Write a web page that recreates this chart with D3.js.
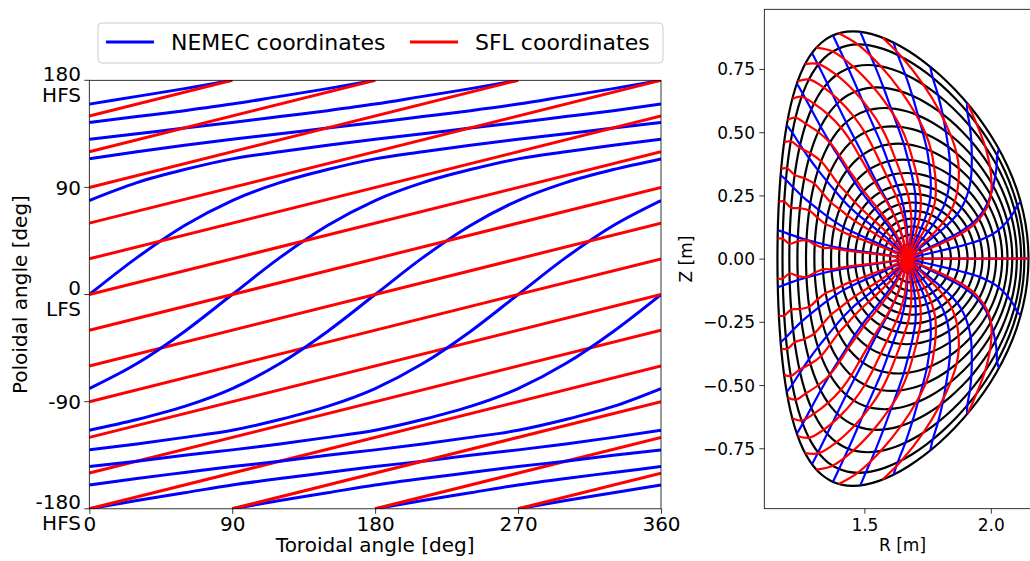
<!DOCTYPE html>
<html>
<head>
<meta charset="utf-8">
<script src="https://cdn.jsdelivr.net/npm/d3@7"></script>
<style>
  body { margin: 0; background: #fff; }
  svg text { font-family: "DejaVu Sans", sans-serif; fill: #000; }
</style>
</head>
<body>
<script>
// ---------------- data ----------------
const toroidalTicks = [0, 90, 180, 270, 360];
const poloidalTicks = [180, 90, 0, -90, -180];
const poloidalTickText = [["180", "HFS"], ["90"], ["0", "LFS"], ["-90"], ["-180", "HFS"]];

// field lines: start angle (SFL) at phi = 0, rotational transform
const iota = 1 / 3;
const fieldLineStarts = [-180, -150, -120, -90, -60, -30, 0, 30, 60, 90, 120, 150];

// boundary angle map: SFL poloidal angle -> NEMEC poloidal angle (deg)
const mapSFL = [-180, -170, -160, -150, -140, -130, -120, -110, -100, -90, -80, -70, -60, -50, -40, -30, -20, -10,
  0, 10, 20, 30, 40, 50, 60, 70, 80, 90, 100, 110, 120, 130, 140, 150, 160, 170, 180];
const mapNEMEC = [-180, -173, -166.5, -160, -154.5, -149.5, -144.5, -140, -135, -130.5, -125.5, -120, -114, -105, -94, -79, -58, -31,
  0, 31, 58, 79, 94, 105, 114, 120, 125.5, 130.5, 135, 140, 144.5, 149.5, 154.5, 160, 166.5, 173, 180];

// flux surfaces (inner -> outer): midplane R on HFS / LFS, elongation, triangularity
const surfRIn  = [1.631, 1.602, 1.576, 1.549, 1.522, 1.493, 1.463, 1.432, 1.400, 1.368, 1.335, 1.302, 1.269, 1.235, 1.203, 1.176, 1.156];
const surfROut = [1.730, 1.770, 1.807, 1.842, 1.875, 1.908, 1.938, 1.967, 1.994, 2.021, 2.045, 2.066, 2.085, 2.103, 2.120, 2.133, 2.149];
const surfKappa = [1.15, 1.12, 1.10, 1.08, 1.07, 1.07, 1.08, 1.10, 1.14, 1.20, 1.28, 1.37, 1.46, 1.56, 1.67, 1.77, 1.81];
const surfDelta = [0.00, 0.01, 0.02, 0.03, 0.04, 0.05, 0.06, 0.08, 0.10, 0.13, 0.16, 0.20, 0.24, 0.28, 0.33, 0.38, 0.41];
// share of the boundary angle shift (SFL vs NEMEC) on each surface
const lambdaWeight = [0.40, 0.40, 0.40, 0.41, 0.42, 0.43, 0.44, 0.45, 0.46, 0.47, 0.48, 0.50, 0.55, 0.63, 0.74, 0.87, 1.0];
// small ripple of the SFL angle on the high-field side (deg)
const lambdaRipple = [0, 0, 0, 0, 0, 0, 0, 0, 0, 0, 0.8, 0, -1, 0, 1.2, 0, 0];
const axisR = 1.677, axisZ = 0.0;

// poloidal angles of the radial grid lines (deg)
const gridAngles = [0, 14.4, 28.8, 43.2, 57.6, 72, 86.4, 100.8, 115.2, 129.6, 144, 158.4, 172.8,
  -172.8, -158.4, -144, -129.6, -115.2, -100.8, -86.4, -72, -57.6, -43.2, -28.8, -14.4];

const rTicks = [1.5, 2.0];
const zTicks = [0.75, 0.5, 0.25, 0, -0.25, -0.5, -0.75];

const BLUE = "#0000ff", RED = "#ff0000";

// ---------------- svg ----------------
var svg = d3.select("body").append("svg")
  .attr("width", 1030)
  .attr("height", 561);

// ================= left panel =================
var x = d3.scaleLinear().domain([0, 360]).range([89.3, 661]);
var y = d3.scaleLinear().domain([-180, 180]).range([508.8, 80.3]);

svg.append("clipPath").attr("id", "clipL")
  .append("rect").attr("x", 89.3).attr("y", 80.3).attr("width", 661 - 89.3).attr("height", 508.8 - 80.3);

var line = d3.line().x(d => x(d[0])).y(d => y(d[1]));
var curve = d3.line().x(d => x(d[0])).y(d => y(d[1])).curve(d3.curveMonotoneX);

// NEMEC field line: follow the SFL knots of the map, wrap at +-180
function nemecSegments(start) {
  const n = mapSFL.length - 1, i0 = mapSFL.indexOf(start);
  const segs = [[]];
  for (let j = i0; ; j++) {
    const turn = Math.floor(j / n), i = j - turn * n;
    const phi = (mapSFL[i] + 360 * turn - start) / iota;
    if (phi > 360) break;
    if (i === 0 && turn > 0) {
      segs[segs.length - 1].push([phi, 180]);
      segs.push([]);
    }
    segs[segs.length - 1].push([phi, mapNEMEC[i]]);
  }
  return segs.filter(s => s.length > 1);
}

// SFL field line: straight, wrap at +-180
function sflSegments(start) {
  const end = start + 360 * iota;
  if (end <= 180) return [[[0, start], [360, end]]];
  const phiWrap = (180 - start) / iota;
  return [[[0, start], [phiWrap, 180]], [[phiWrap, -180], [360, end - 360]]];
}

var gL = svg.append("g").attr("clip-path", "url(#clipL)");
fieldLineStarts.forEach(start => {
  nemecSegments(start).forEach(seg => {
    gL.append("path").attr("d", curve(seg))
      .attr("fill", "none").attr("stroke", BLUE).attr("stroke-width", 3);
  });
  sflSegments(start).forEach(seg => {
    gL.append("path").attr("d", line(seg))
      .attr("fill", "none").attr("stroke", RED).attr("stroke-width", 3);
  });
});

// frame
svg.append("rect")
  .attr("x", 89.3).attr("y", 80.3).attr("width", 661 - 89.3).attr("height", 508.8 - 80.3)
  .attr("fill", "none").attr("stroke", "#000").attr("stroke-width", 0.8);

// x axis
var xAxis = svg.append("g").attr("transform", "translate(0,508.8)")
  .call(d3.axisBottom(x).tickValues(toroidalTicks).tickSize(5).tickPadding(4).tickFormat(d3.format("d")));
xAxis.select(".domain").remove();
xAxis.selectAll("line").attr("stroke", "#000").attr("stroke-width", 0.8);
xAxis.selectAll("text").attr("font-size", 20).attr("dy", null).attr("y", 22);

// y axis with two-line labels
var yAxis = svg.append("g");
poloidalTicks.forEach((t, i) => {
  yAxis.append("line")
    .attr("x1", 84.3).attr("x2", 89.3).attr("y1", y(t)).attr("y2", y(t))
    .attr("stroke", "#000").attr("stroke-width", 0.8);
  const lines = poloidalTickText[i];
  const txt = yAxis.append("text")
    .attr("text-anchor", "end").attr("font-size", 20);
  lines.forEach((s, k) => {
    txt.append("tspan")
      .attr("x", 81)
      .attr("y", y(t) + (lines.length === 1 ? 7.4 : 0.6 + 21 * k))
      .text(s);
  });
});

svg.append("text")
  .attr("x", (89.3 + 661) / 2).attr("y", 552)
  .attr("text-anchor", "middle").attr("font-size", 20)
  .text("Toroidal angle [deg]");

svg.append("text")
  .attr("transform", "translate(27," + ((80.3 + 508.8) / 2) + ") rotate(-90)")
  .attr("text-anchor", "middle").attr("font-size", 20)
  .text("Poloidal angle [deg]");

// legend
var legend = svg.append("g");
legend.append("rect")
  .attr("x", 98).attr("y", 23).attr("width", 565).attr("height", 40).attr("rx", 4)
  .attr("fill", "#fff").attr("fill-opacity", 0.8).attr("stroke", "#cccccc").attr("stroke-width", 1);
[["NEMEC coordinates", BLUE, 106], ["SFL coordinates", RED, 410]].forEach(item => {
  legend.append("line")
    .attr("x1", item[2]).attr("x2", item[2] + 48).attr("y1", 42).attr("y2", 42)
    .attr("stroke", item[1]).attr("stroke-width", 3);
  legend.append("text")
    .attr("x", item[2] + 65).attr("y", 50)
    .attr("font-size", 22)
    .text(item[0]);
});

// ================= right panel =================
var xr = d3.scaleLinear().domain([1.104, 2.2]).range([764.3, 764.3 + 1.096 * 252.8]);
var yr = d3.scaleLinear().domain([-0.989, 0.986]).range([508.7, 9.3]);

// flux surface point at poloidal angle (deg)
function surfPoint(j, th) {
  const c = (surfRIn[j] + surfROut[j]) / 2, a = (surfROut[j] - surfRIn[j]) / 2;
  const t = th * Math.PI / 180;
  return [c + a * Math.cos(t + surfDelta[j] * Math.sin(t)), surfKappa[j] * a * Math.sin(t)];
}

var rLine = d3.line().x(d => xr(d[0])).y(d => yr(d[1]));
var gR = svg.append("g");

// black flux surfaces
var surfAngles = d3.range(0, 360, 6);
surfRIn.forEach((_, j) => {
  gR.append("path")
    .attr("d", rLine.curve(d3.curveCatmullRomClosed)(surfAngles.map(th => surfPoint(j, th))))
    .attr("fill", "none").attr("stroke", "#000").attr("stroke-width", 2.2);
});

// NEMEC angle on surface j for a given SFL angle
var sflToNemec = d3.scaleLinear().domain(mapSFL).range(mapNEMEC);
function nemecAngle(j, ts) {
  const hfs = Math.pow((1 - Math.cos(ts * Math.PI / 180)) / 2, 2);
  return ts + lambdaWeight[j] * (sflToNemec(ts) - ts) + Math.sign(ts) * hfs * lambdaRipple[j];
}

rLine.curve(d3.curveCatmullRom);
gridAngles.forEach(th => {
  const pts = [[axisR, axisZ]].concat(surfRIn.map((_, j) => surfPoint(j, th)));
  gR.append("path").attr("d", rLine(pts))
    .attr("fill", "none").attr("stroke", BLUE).attr("stroke-width", 2.2);
});
gridAngles.forEach(ts => {
  const pts = [[axisR, axisZ]].concat(surfRIn.map((_, j) => surfPoint(j, nemecAngle(j, ts))));
  gR.append("path").attr("d", rLine(pts))
    .attr("fill", "none").attr("stroke", RED).attr("stroke-width", 2.2);
});

// frame
svg.append("rect")
  .attr("x", 764.3).attr("y", 9.3).attr("width", 1.096 * 252.8).attr("height", 508.7 - 9.3)
  .attr("fill", "none").attr("stroke", "#000").attr("stroke-width", 0.8);

var rAxis = svg.append("g").attr("transform", "translate(0,508.7)")
  .call(d3.axisBottom(xr).tickValues(rTicks).tickSize(5).tickPadding(4).tickFormat(d3.format(".1f")));
rAxis.select(".domain").remove();
rAxis.selectAll("line").attr("stroke", "#000").attr("stroke-width", 0.8);
rAxis.selectAll("text").attr("font-size", 17).attr("dy", null).attr("y", 22.5);

var zAxis = svg.append("g").attr("transform", "translate(764.3,0)")
  .call(d3.axisLeft(yr).tickValues(zTicks).tickSize(5).tickPadding(4).tickFormat(d3.format(".2f")));
zAxis.select(".domain").remove();
zAxis.selectAll("line").attr("stroke", "#000").attr("stroke-width", 0.8);
zAxis.selectAll("text").attr("font-size", 17).attr("dy", null).attr("x", -9.3).attr("y", 6);

svg.append("text")
  .attr("x", 902.5).attr("y", 551)
  .attr("text-anchor", "middle").attr("font-size", 17)
  .text("R [m]");

svg.append("text")
  .attr("transform", "translate(692," + ((9.3 + 508.7) / 2) + ") rotate(-90)")
  .attr("text-anchor", "middle").attr("font-size", 17)
  .text("Z [m]");
</script>
</body>
</html>
